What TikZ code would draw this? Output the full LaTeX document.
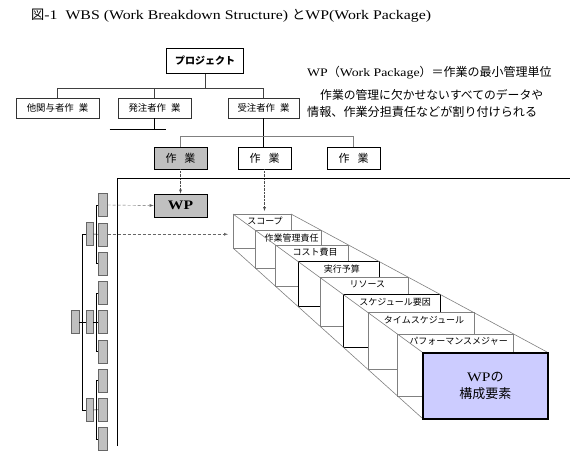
\documentclass[tikz,border=0pt]{standalone}
\usepackage{fontspec}
\setmainfont{Liberation Serif}[FakeStretch=1.2]
\newfontfamily\jp{Noto Sans CJK JP}
\usepackage{xcolor}
\usepackage{tikz}
\usetikzlibrary{positioning}

\definecolor{boxgray}{HTML}{C0C0C0}
\definecolor{cardgray}{HTML}{808080}
\definecolor{wpblue}{HTML}{CCCCFF}

\begin{document}
\begin{tikzpicture}[x=1pt, y=-1pt,
		wbsbox/.style={rectangle, draw=black!80, fill=white, minimum height=20pt, inner sep=1pt, font=\jp\fontsize{9.4}{10}\selectfont},
		workbox/.style={rectangle, draw, line width=0.8pt, minimum width=53pt, minimum height=22pt, inner sep=0pt, font=\jp\fontsize{11}{12}\selectfont},
		leaf/.style={rectangle, draw=black!60, fill=boxgray, minimum width=9pt, minimum height=23pt, inner sep=0pt},
		cardlabel/.style={inner sep=0pt, font=\jp\fontsize{9}{10}\selectfont},
		link/.style={densely dashed, black!60, -latex},
		drop/.style={densely dotted, black!70, -latex}]
		\useasboundingbox (0,0) rectangle (570,458);
		
		% Title and notes
		\node [anchor=base west, inner sep=0pt, font=\fontsize{13.2}{15}\selectfont] (title) at (31,19) {{\jp 図}-1\ \ WBS (Work Breakdown Structure) {\jp と}WP(Work Package)};
		\node [anchor=base west, inner sep=0pt, font=\fontsize{11.5}{13}\selectfont] (defn) at (307,76) {WP{\jp\fontsize{12}{13}\selectfont （}Work Package{\jp\fontsize{12}{13}\selectfont ）＝作業の最小管理単位}};
		\node [anchor=base west, inner sep=0pt, font=\jp\fontsize{11.8}{13}\selectfont] (note1) at (320,99.5) {作業の管理に欠かせないすべてのデータや};
		\node [anchor=base west, inner sep=0pt, font=\jp\fontsize{12.1}{13}\selectfont] (note2) at (307,116.5) {情報、作業分担責任などが割り付けられる};
		
		% Nodes
		\node [rectangle, draw, line width=1.5pt, minimum width=77pt, minimum height=25pt, font=\jp\bfseries\fontsize{10}{12}\selectfont] (project) at (205,61) {プロジェクト};
		\node [wbsbox, minimum width=83pt] (other) at (57.5,108) {他関与者作\hspace{5pt}業};
		\node [wbsbox, minimum width=73pt] (client) at (154.5,108) {発注者作\hspace{5pt}業};
		\node [wbsbox, minimum width=71pt] (contractor) at (263.5,108) {受注者作\hspace{5pt}業};
		\node [workbox, fill=boxgray] (work1) at (180.5,158) {作\hspace{8pt}業};
		\node [workbox, fill=white] (work2) at (264.5,158) {作\hspace{8pt}業};
		\node [workbox, fill=white] (work3) at (353.5,158) {作\hspace{8pt}業};
		\node [workbox, fill=boxgray, minimum height=23pt, font=\bfseries\fontsize{13}{14}\selectfont] (wp) at (180.5,205.5) {WP};
		
		% Arrows
		\draw [black!75] (project.south) -- (project.south |- 0,88);
		\draw [black!75] (other.north) -- (other.north |- 0,88) -| (contractor.north);
		\draw [black!75] (client.north) -- (client.north |- 0,88);
		\draw (client.south) -- ++(0,11) coordinate (stub);
		\draw ([xshift=-45pt]stub) -- ([xshift=11pt]stub);
		\draw (contractor.south) -- (contractor.south |- work2.north);
		\draw [cardgray] (work1.north) -- (work1.north |- 0,136) -| (work3.north);
		\coordinate (scopetop) at (264.5,211);
		\draw [drop] (work1.south) -- (wp.north);
		\draw [drop] (work2.south) -- (scopetop);
		
		% Frame
		\draw [line width=0.6pt] (117,446) -- (117,178) -- (570,178);
		
		% Left tree
		\foreach \i in {0,...,8}
			\node [leaf] (l\i) at (103,{205+29.25*\i}) {};
		\node [leaf, minimum width=7pt] (m0) at (89.5,234) {};
		\node [leaf, minimum width=7pt] (m1) at (89.5,322) {};
		\node [leaf, minimum width=7pt] (m2) at (89.5,410) {};
		\node [leaf, minimum width=8pt] (root) at (75,322) {};
		\draw (root) -- (m1);
		\draw (m0.west) -- ++(-4,0) |- (m2.west);
		\foreach \g/\a/\b/\c in {0/0/1/2, 1/3/4/5, 2/6/7/8} {
			\draw (m\g.east) -- (l\b.west);
			\draw (l\a.west) -- ++(-2,0) |- (l\c.west);
		}
		\coordinate (scopeleft) at (228,234.25);
		\draw [link] (l0.east) -- (wp.west);
		\draw [link] (l1.east) -- (scopeleft);
		
		% Cards of the WP
		\foreach \k/\s/\c/\lab in {0/0/cardgray/スコープ, 1/0.12/cardgray/作業管理責任, 2/0.225/cardgray/コスト費目, 3/0.345/black/実行予算, 4/0.46/cardgray/リソース, 5/0.585/black/スケジュール要因, 6/0.715/cardgray/タイムスケジュール, 7/0.87/cardgray/パフォーマンスメジャー} {
			\draw [draw=\c, fill=white, line width=0.6pt] ({233+189*\s},{214+138*\s}) rectangle ({291+256*\s},{248+170*\s});
			\node [cardlabel, anchor=base] (card\k) at ({265+222.5*\s},{224.5+138*\s}) {\lab};
		}
		\draw [cardgray, line width=0.6pt] (233,214) -- (422,352);
		\draw [cardgray, line width=0.6pt] (233,248) -- (422,418);
		\draw [cardgray, line width=0.6pt] (291,214) -- (547,352);
		\node [rectangle, draw, line width=1.8pt, fill=wpblue, anchor=north west, minimum width=125pt, minimum height=66pt, align=center, font=\jp\fontsize{13}{17}\selectfont] (elements) at (422,352) {{\rmfamily WP}の\\構成要素};
	\end{tikzpicture}
\end{document}
